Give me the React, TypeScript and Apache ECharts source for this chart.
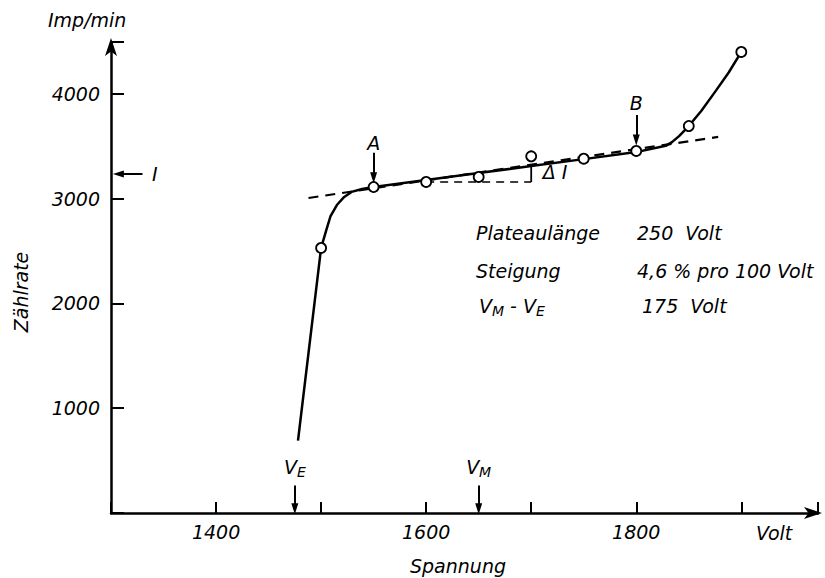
import React, { useEffect, useRef } from "react";
import * as echarts from "echarts";

// measured points (Volt, Imp/min)
const measV = [1500, 1550, 1600, 1650, 1700, 1750, 1800, 1850, 1900];
const measI = [2530, 3112, 3160, 3208, 3405, 3382, 3456, 3694, 4401];

// drawn characteristic curve
const curveV = [1478, 1500, 1505, 1509, 1515, 1522, 1529, 1539, 1550, 1600, 1650, 1700, 1750, 1800, 1828, 1834, 1841, 1850, 1862, 1875, 1888, 1900];
const curveI = [690, 2530, 2702, 2835, 2940, 3017, 3065, 3093, 3112, 3178, 3245, 3312, 3378, 3445, 3505, 3540, 3600, 3694, 3840, 4020, 4205, 4401];

// plateau tangent (dashed)
const tangentV = [1488, 1878];
const tangentI = [3007, 3590];

// delta I construction
const deltaV = [1600, 1700];
const deltaBase = 3160;
const deltaTop = 3312;

const xTickLabels = [1400, 1600, 1800];
const yTickLabels = [1000, 2000, 3000, 4000];

const FONT = "DejaVu Sans";
const INK = "#000000";
const FS = 19;

export default function App() {
  const ref = useRef<HTMLDivElement>(null);
  useEffect(() => {
    if (!ref.current) return;
    const chart = echarts.init(ref.current, null, { renderer: "svg" });
    const txt = { fontFamily: FONT, fontStyle: "italic" as const, color: INK, fontSize: FS };
    const rich = {
      a: { fontFamily: FONT, fontStyle: "italic", color: INK, fontSize: FS, lineHeight: 24, verticalAlign: "middle" },
      s: { fontFamily: FONT, fontStyle: "italic", color: INK, fontSize: 14, lineHeight: 24, verticalAlign: "bottom" },
    };
    const font = `italic ${FS}px '${FONT}'`;
    const arrowLine = (x1: number, y1: number, x2: number, y2: number) => [
      { coord: [x1, y1] },
      { coord: [x2, y2] },
    ];
    const labels = [
      { value: [1550, 3535], t: "{a|A}" },
      { value: [1800, 3915], t: "{a|B}" },
      { value: [1475, 437], t: "{a|V}{s|E}" },
      { value: [1650, 437], t: "{a|V}{s|M}" },
    ];
    chart.setOption({
      animation: false,
      backgroundColor: "#ffffff",
      grid: { left: 111, top: 42, width: 707, height: 471, containLabel: false },
      xAxis: {
        type: "value",
        min: 1300,
        max: 1973,
        interval: 100,
        splitLine: { show: false },
        axisLine: { lineStyle: { color: INK, width: 2.5 }, symbol: ["none", "arrow"], symbolSize: [9, 18], symbolOffset: [0, 4] },
        axisTick: { inside: true, length: 11, lineStyle: { color: INK, width: 2 } },
        axisLabel: {
          ...txt,
          margin: 9,
          formatter: (v: number) => (xTickLabels.includes(v) ? String(v) : ""),
        },
      },
      yAxis: {
        type: "value",
        min: 0,
        max: 4496,
        interval: 1000,
        splitLine: { show: false },
        axisLine: { lineStyle: { color: INK, width: 2.5 }, symbol: ["none", "arrow"], symbolSize: [9, 18], symbolOffset: [0, 4] },
        axisTick: { inside: true, length: 13, lineStyle: { color: INK, width: 2 } },
        axisLabel: {
          ...txt,
          margin: 11,
          formatter: (v: number) => (yTickLabels.includes(v) ? String(v) : ""),
        },
      },
      series: [
        {
          type: "line",
          data: tangentV.map((v, i) => [v, tangentI[i]]),
          symbol: "none",
          lineStyle: { color: INK, width: 2.2, type: [10, 7] },
          z: 1,
        },
        {
          type: "line",
          data: deltaV.map((v) => [v, deltaBase]),
          symbol: "none",
          lineStyle: { color: INK, width: 1.6, type: [8, 6] },
          z: 1,
        },
        {
          type: "line",
          data: [
            [deltaV[1], deltaBase],
            [deltaV[1], deltaTop],
          ],
          symbol: "none",
          lineStyle: { color: INK, width: 1.8 },
          z: 1,
        },
        {
          type: "line",
          data: curveV.map((v, i) => [v, curveI[i]]),
          symbol: "none",
          smooth: false,
          lineStyle: { color: INK, width: 2.5, join: "round" },
          z: 2,
          markLine: {
            silent: true,
            symbol: ["none", "triangle"],
            symbolSize: [7, 11],
            label: { show: false },
            lineStyle: { color: INK, width: 2, type: "solid", opacity: 1 },
            data: [
              arrowLine(1550, 3440, 1550, 3200),
              arrowLine(1800, 3800, 1800, 3560),
              arrowLine(1475, 262, 1475, 40),
              arrowLine(1650, 262, 1650, 40),
              arrowLine(1330, 3236, 1307, 3236),
            ],
          },
        },
        {
          type: "scatter",
          data: measV.map((v, i) => [v, measI[i]]),
          symbol: "circle",
          symbolSize: 10,
          itemStyle: { color: "#ffffff", borderColor: INK, borderWidth: 1.8, opacity: 1 },
          z: 3,
        },
        {
          type: "scatter",
          data: labels.map((l) => ({ value: l.value, t: l.t })),
          symbolSize: 0,
          itemStyle: { opacity: 1 },
          label: {
            show: true,
            position: "inside",
            opacity: 1,
            formatter: (p: any) => p.data.t,
            rich,
          },
          z: 4,
        },
        {
          type: "scatter",
          data: [
            { value: [1339, 3236], t: "{a|I}" },
            { value: [1711, 3255], t: "{a|Δ I}" },
          ],
          symbolSize: 0,
          itemStyle: { opacity: 1 },
          label: {
            show: true,
            position: "right",
            distance: 0,
            opacity: 1,
            formatter: (p: any) => p.data.t,
            rich,
          },
          z: 4,
        },
      ],
      graphic: [
        { type: "text", left: 48, top: 10, style: { text: "Imp/min", font, fill: INK } },
        {
          type: "text",
          x: 21,
          y: 292,
          rotation: Math.PI / 2,
          style: { text: "Zählrate", font, fill: INK, align: "center", verticalAlign: "middle" },
        },
        { type: "text", x: 458, y: 566, style: { text: "Spannung", font, fill: INK, align: "center", verticalAlign: "middle" } },
        { type: "text", x: 756, y: 533, style: { text: "Volt", font, fill: INK, align: "left", verticalAlign: "middle" } },
        { type: "text", x: 476, y: 233, style: { text: "Plateaulänge", font, fill: INK, verticalAlign: "middle" } },
        { type: "text", x: 637, y: 233, style: { text: "250  Volt", font, fill: INK, verticalAlign: "middle" } },
        { type: "text", x: 476, y: 271, style: { text: "Steigung", font, fill: INK, verticalAlign: "middle" } },
        { type: "text", x: 637, y: 271, style: { text: "4,6 % pro 100 Volt", font, fill: INK, verticalAlign: "middle" } },
        {
          type: "text",
          x: 479,
          y: 306,
          style: { text: "{a|V}{s|M}{a| - V}{s|E}", rich, verticalAlign: "middle" },
        },
        { type: "text", x: 642, y: 306, style: { text: "175  Volt", font, fill: INK, verticalAlign: "middle" } },
      ],
    });
    return () => chart.dispose();
  }, []);
  return <div ref={ref} style={{ position: "fixed", left: 0, top: 0, width: 825, height: 578, background: "#fff" }} />;
}
